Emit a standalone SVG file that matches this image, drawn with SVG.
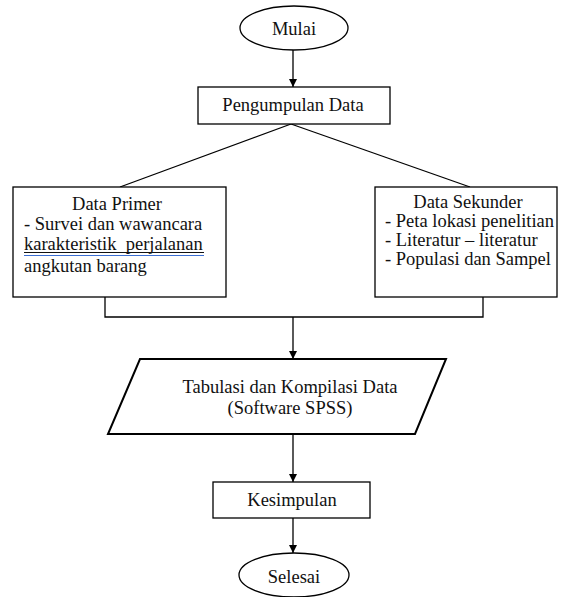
<svg xmlns="http://www.w3.org/2000/svg" width="561" height="597" viewBox="0 0 561 597">
<defs>
<style>
.s{fill:#fff;stroke:#000;stroke-width:1.3}
.p{fill:#fff;stroke:#000;stroke-width:2}
.c{fill:none;stroke:#000;stroke-width:1.3}
text{font-family:"Liberation Serif","DejaVu Serif",serif;font-size:18.5px;fill:#111}
.m{text-anchor:middle}
</style>
<marker id="ah" viewBox="0 0 10 10" refX="10" refY="5" markerWidth="8" markerHeight="8" markerUnits="userSpaceOnUse" orient="auto">
<path d="M0,0 L10,5 L0,10 z" fill="#000"/>
</marker>
</defs>
<rect width="561" height="597" fill="#fff"/>
<g id="connectors">
<line class="c" x1="293" y1="50" x2="293" y2="87" marker-end="url(#ah)"/>
<line class="c" x1="291" y1="124" x2="120" y2="187"/>
<line class="c" x1="291" y1="124" x2="470" y2="187"/>
<polyline class="c" points="105,297 105,317 483,317 483,297"/>
<line class="c" x1="293" y1="317" x2="293" y2="359" marker-end="url(#ah)"/>
<line class="c" x1="293" y1="434" x2="293" y2="482" marker-end="url(#ah)"/>
<line class="c" x1="293" y1="518" x2="293" y2="553" marker-end="url(#ah)"/>
</g>
<g id="mulai">
<ellipse class="s" cx="294" cy="28" rx="54" ry="22"/>
<text class="m" x="294" y="35">Mulai</text>
</g>
<g id="pengumpulan">
<rect class="s" x="198" y="87" width="192" height="37"/>
<text class="m" x="293" y="111">Pengumpulan Data</text>
</g>
<g id="primer">
<rect class="s" x="13" y="187" width="213" height="110"/>
<text class="m" x="117" y="210">Data Primer</text>
<text x="24" y="230">- Survei dan wawancara</text>
<text x="24" y="250" xml:space="preserve">karakteristik  perjalanan</text>
<line x1="24" y1="252.5" x2="204" y2="252.5" stroke="#111" stroke-width="1"/>
<line x1="24" y1="255.5" x2="204" y2="255.5" stroke="#3b6fd4" stroke-width="1.2"/>
<text x="24" y="272">angkutan barang</text>
</g>
<g id="sekunder">
<rect class="s" x="375" y="187" width="182" height="110"/>
<text class="m" x="468" y="208">Data Sekunder</text>
<text x="385" y="227">- Peta lokasi penelitian</text>
<text x="385" y="246">- Literatur – literatur</text>
<text x="385" y="265">- Populasi dan Sampel</text>
</g>
<g id="tabulasi">
<polygon class="p" points="140,359 446,359 415,434 108,434"/>
<text class="m" x="290" y="393">Tabulasi dan Kompilasi Data</text>
<text class="m" x="290" y="414">(Software SPSS)</text>
</g>
<g id="kesimpulan">
<rect class="s" x="213" y="482" width="157" height="36"/>
<text class="m" x="292" y="506">Kesimpulan</text>
</g>
<g id="selesai">
<ellipse class="s" cx="294" cy="575" rx="55" ry="22"/>
<text class="m" x="294" y="583">Selesai</text>
</g>
</svg>
